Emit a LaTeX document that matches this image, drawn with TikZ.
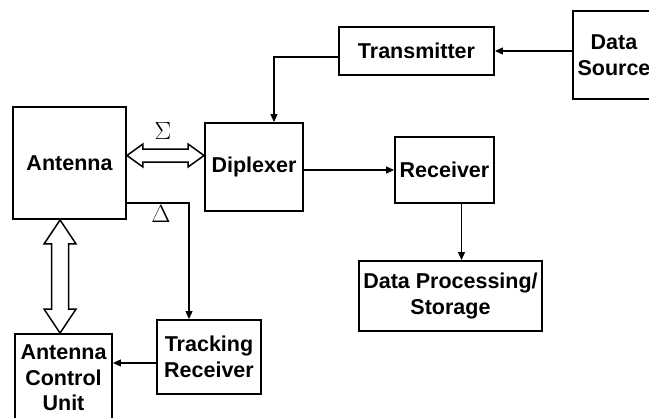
\documentclass[tikz,border=0pt]{standalone}
\usepackage{fontspec}
\setmainfont{Liberation Sans}
\usetikzlibrary{arrows.meta,calc}
\begin{document}
\begin{tikzpicture}[x=1pt,y=-1pt,
  blk/.style={draw,line width=1.9pt,inner sep=0pt,align=center,
    font=\fontsize{21.5}{25.5}\selectfont\bfseries},
  conn/.style={line width=1.1pt,-{Triangle[length=8pt,width=7pt]}},
  fat/.style={draw,line width=1.5pt,fill=white,line join=miter},
  lbl/.style={font=\fontsize{25}{28}\selectfont}]
\useasboundingbox (0,0) rectangle (649,418);
\node[blk,minimum width=113pt,minimum height=112pt] (ant) at (69.5,163) {Antenna};
\node[blk,minimum width=98pt,minimum height=88pt] (dip) at (254,167) {Diplexer};
\node[blk,minimum width=155pt,minimum height=48pt] (tx) at (416.5,51) {Transmitter};
\node[blk,minimum width=82pt,minimum height=88pt] (ds) at (614,55) {Data\\Source};
\node[blk,minimum width=99pt,minimum height=66pt] (rx) at (444.5,170) {Receiver};
\node[blk,minimum width=183pt,minimum height=70pt] (dp) at (450.5,296) {Data Processing/\\Storage};
\node[blk,minimum width=104pt,minimum height=74pt] (tr) at (209,357) {Tracking\\Receiver};
\node[blk,minimum width=97pt,minimum height=88pt] (acu) at (63.5,378) {Antenna\\Control\\Unit};
% connectors
\draw[conn] (ds.west |- tx.east) -- (tx.east);
\coordinate (txo) at ($(tx.west)+(0,6)$);
\coordinate (dipin) at ($(dip.north)+(20,0)$);
\draw[conn] (txo) -| (dipin);
\draw[conn] (dip.east |- rx.west) -- (rx.west);
\coordinate (rxo) at ($(rx.south)+(17,0)$);
\draw[conn] (rxo) -- (rxo |- dp.north);
\coordinate (anto) at ($(ant.south east)+(0,-17)$);
\coordinate (trin) at ($(tr.north)+(-20,0)$);
\draw[conn] (anto) -| (trin);
\coordinate (tro) at ($(tr.west)+(0,6)$);
\draw[conn] (tro) -- (tro -| acu.east);
% horizontal double arrow
\coordinate (hl) at ($(ant.east)+(0,-7.5)$);
\coordinate (hr) at (dip.west |- hl);
\draw[fat] (hl) -- ++(16,-11.5) -- ++(0,5) -- ($(hr)+(-16,-6.5)$) -- ++(0,-5) -- (hr)
  -- ++(-16,11.5) -- ++(0,-5) -- ($(hl)+(16,6.5)$) -- ++(0,5) -- cycle;
% vertical double arrow
\coordinate (vt) at ($(ant.south west)+(48,0)$);
\coordinate (vb) at (vt |- acu.north);
\draw[fat] (vt) -- ++(16,24) -- ++(-7.5,0) -- ($(vb)+(8.5,-24)$) -- ++(7.5,0) -- (vb)
  -- ++(-16,-24) -- ++(7.5,0) -- ($(vt)+(-8.5,24)$) -- ++(-7.5,0) -- cycle;
% labels
\node[lbl] (sig) at (163,131) {$\Sigma$};
\node[lbl] (del) at (161,214) {$\Delta$};
\end{tikzpicture}
\end{document}
